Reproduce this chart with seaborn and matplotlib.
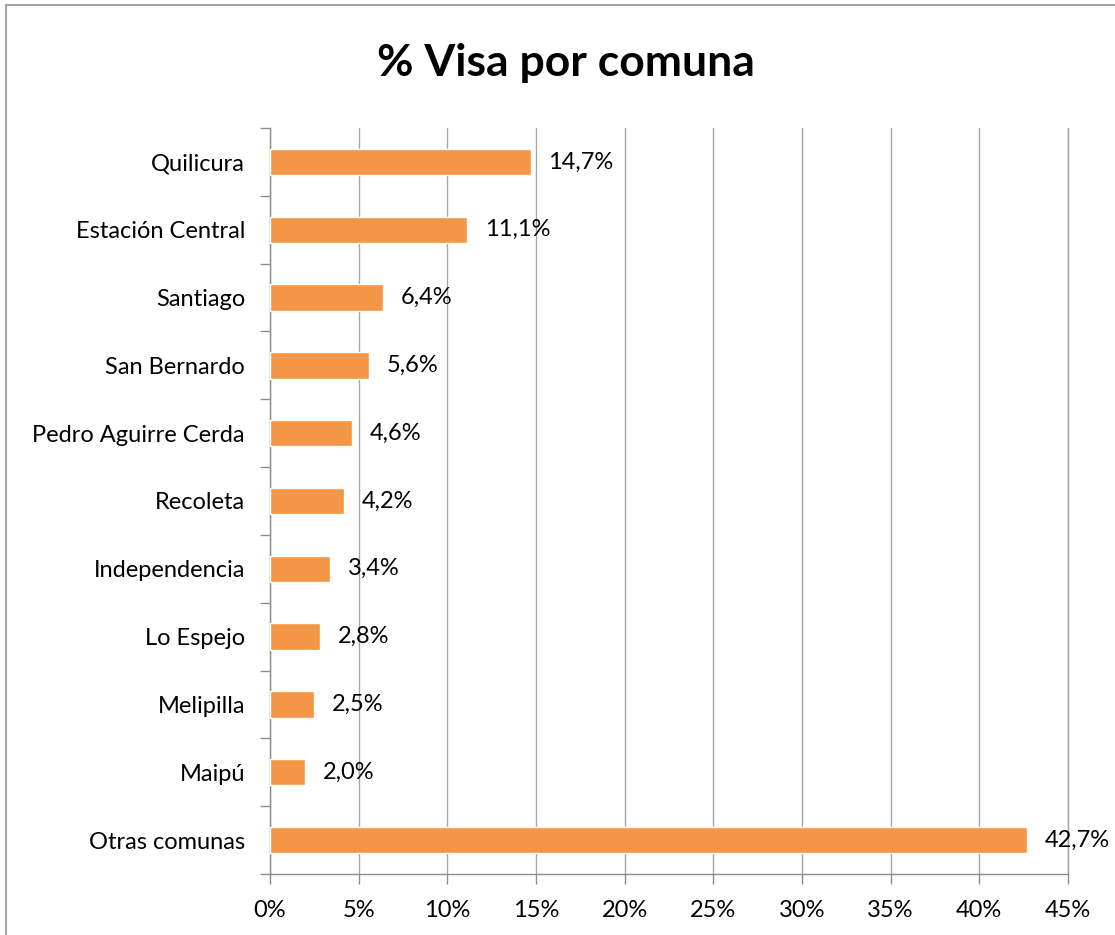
import matplotlib.pyplot as plt
import matplotlib.patches as mpatches
import seaborn as sns
import pandas as pd
import numpy as np

comunas = ["Quilicura", "Estación Central", "Santiago", "San Bernardo",
           "Pedro Aguirre Cerda", "Recoleta", "Independencia", "Lo Espejo",
           "Melipilla", "Maipú", "Otras comunas"]
porcentajes = [14.7, 11.1, 6.4, 5.6, 4.6, 4.2, 3.4, 2.8, 2.5, 2.0, 42.7]
x_ticks = [0, 5, 10, 15, 20, 25, 30, 35, 40, 45]

sns.set_style("white")
plt.rcParams['font.family'] = ['Lato', 'DejaVu Sans']
plt.rcParams['text.color'] = 'black'
plt.rcParams['xtick.labelcolor'] = 'black'
plt.rcParams['ytick.labelcolor'] = 'black'

df = pd.DataFrame({"Comuna": comunas, "Pct": porcentajes})

fig = plt.figure(figsize=(11.15, 9.35), dpi=100)
ax = fig.add_axes([270 / 1115, 1 - 874 / 935, (1068 - 270) / 1115, (874 - 128) / 935])

sns.barplot(data=df, x="Pct", y="Comuna", color="#F39646", saturation=1,
            width=0.39, ax=ax, zorder=3)

ax.set_xlim(0, 45)
ax.set_ylim(len(comunas) - 0.5, -0.5)
ax.set_xticks(x_ticks)
ax.set_xticklabels([f"{t}%" for t in x_ticks], fontsize=17)
ax.set_yticks(range(len(comunas)))
ax.set_yticklabels(comunas, fontsize=17)
ax.set_yticks(np.arange(-0.5, len(comunas), 1), minor=True)
ax.tick_params(axis="y", which="major", length=0, pad=18)
ax.tick_params(axis="y", which="minor", length=7, color="#8C8C8C", width=1, left=True)
ax.tick_params(axis="x", which="major", length=7, color="#8C8C8C", width=1,
               bottom=True, pad=12)
ax.set_xlabel("")
ax.set_ylabel("")

ax.grid(axis="x", color="#A6A6A6", linewidth=1, zorder=0)
ax.axvline(45, color="#A6A6A6", linewidth=1, zorder=0, clip_on=False)
for side in ["top", "right"]:
    ax.spines[side].set_visible(False)
for side in ["left", "bottom"]:
    ax.spines[side].set_color("#8C8C8C")
    ax.spines[side].set_linewidth(1)

for i, v in enumerate(porcentajes):
    ax.text(v + 1.0, i, f"{v:.1f}%".replace(".", ","), va="center", ha="left",
            fontsize=17, color="black")

fig.suptitle("% Visa por comuna", x=566 / 1115, y=1 - 63 / 935, va="center",
             fontsize=32, fontweight="bold", color="black")

fig.patches.append(mpatches.Rectangle((6 / 1115, -0.01), 1.2, 1 - 5 / 935 + 0.01,
                                      transform=fig.transFigure, fill=False,
                                      edgecolor="#A6A6A6", linewidth=1.5))

fig.savefig("out.png", dpi=100)
plt.close(fig)
